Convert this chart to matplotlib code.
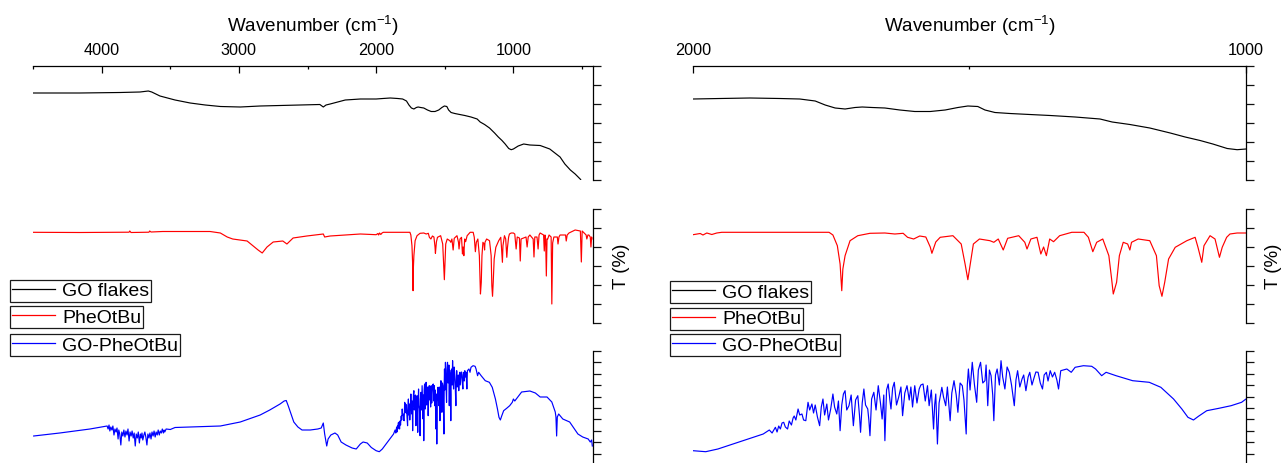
import numpy as np
import matplotlib
matplotlib.use("Agg")
import matplotlib.pyplot as plt
from matplotlib.lines import Line2D

plt.rcParams["font.family"] = ["Liberation Sans", "DejaVu Sans"]
plt.rcParams["mathtext.fontset"] = "custom"
plt.rcParams["mathtext.rm"] = "Liberation Sans"
plt.rcParams["mathtext.it"] = "Liberation Sans:italic"
plt.rcParams["mathtext.default"] = "regular"

# ---------------- FTIR spectra (wavenumber cm-1, transmittance, arbitrary offset) ----
go_flakes = [
    (4500, 87), (4160, 87), (3865, 87.5), (3720, 88), (3660, 89), (3635, 88),
    (3575, 84), (3465, 80), (3355, 77), (3245, 75), (3135, 73.5), (2990, 73),
    (2845, 74), (2700, 74.5), (2555, 75), (2410, 75.5), (2385, 73), (2365, 75),
    (2335, 76), (2225, 80), (2115, 81), (2000, 81), (1951, 81.5), (1897, 82),
    (1843, 81.5), (1807, 81), (1779, 79), (1761, 75), (1743, 72), (1725, 71),
    (1707, 72.5), (1694, 73), (1676, 72.5), (1653, 72), (1626, 70), (1599, 68.5),
    (1571, 68.5), (1544, 70), (1521, 72.5), (1503, 74), (1485, 73.5), (1472, 70),
    (1454, 67.5), (1427, 66.5), (1391, 65.5), (1354, 64.5), (1309, 63), (1264, 61),
    (1242, 58), (1210, 55.5), (1174, 52), (1137, 47), (1110, 43), (1083, 39.5),
    (1060, 36), (1034, 31.5), (1016, 30.3), (1000, 31), (965, 34), (925, 36),
    (880, 35), (805, 34.5), (735, 31), (660, 23), (625, 16), (585, 10), (550, 6),
    (510, 0.5),
]

phe_otbu = [
    (4500, 90.7), (4160, 90.5), (3800, 90.8), (3795, 92), (3786, 90.5),
    (3655, 90.8), (3650, 92), (3640, 91), (3555, 91.5), (3210, 91.5), (3135, 90),
    (3085, 86), (3045, 84), (2990, 83), (2940, 82), (2895, 77), (2860, 73),
    (2830, 70), (2795, 76), (2750, 81), (2680, 82), (2650, 79), (2605, 85),
    (2505, 87), (2385, 89), (2375, 86), (2335, 87), (2115, 89),
    (2000, 88.3), (1987, 89.5), (1982, 88), (1975, 90), (1966, 88.5), (1957, 90),
    (1948, 90.7), (1879, 90.7), (1754, 90.7), (1747, 88), (1739, 77.3), (1734, 59),
    (1731, 32.3), (1729, 54), (1725, 67.3), (1716, 82.3), (1702, 87.3), (1680, 89.7),
    (1653, 90), (1635, 89), (1620, 89.7), (1612, 85.7), (1601, 84), (1590, 87),
    (1579, 86), (1571, 76), (1568, 69.7), (1561, 81), (1553, 85.7), (1530, 87.3),
    (1515, 79), (1508, 59), (1503, 43.3), (1499, 57.3), (1493, 79), (1482, 84),
    (1463, 82.3), (1456, 80.7), (1448, 84), (1439, 73), (1431, 84.7), (1411, 87.3),
    (1400, 80.7), (1396, 74), (1389, 84), (1378, 85.7), (1371, 69), (1366, 76),
    (1361, 67.3), (1355, 84), (1348, 81.3), (1337, 87.3), (1315, 90.7), (1293, 90.7),
    (1285, 85.7), (1277, 71.3), (1270, 80.7), (1259, 84), (1248, 67.3), (1243, 44),
    (1240, 29), (1234, 40.7), (1229, 67.3), (1222, 80.7), (1214, 79), (1210, 73),
    (1207, 80.7), (1195, 84), (1174, 82.3), (1162, 67.3), (1157, 37.3), (1152, 26.7),
    (1147, 40.7), (1140, 64), (1128, 75.7), (1107, 82.3), (1092, 85.7), (1087, 76),
    (1080, 60.7), (1076, 77.3), (1065, 87.3), (1056, 84), (1051, 72.3), (1048, 65.7),
    (1043, 75.7), (1035, 85.7), (1029, 89), (1016, 90), (1000, 90),
    (990, 89), (980, 74), (972, 86), (956, 85), (950, 62), (944, 84), (908, 86),
    (900, 76), (892, 86), (880, 88), (856, 84), (850, 66), (844, 86), (828, 86),
    (820, 74), (813, 88), (805, 90), (780, 88), (775, 72), (770, 88), (765, 84),
    (760, 47), (755, 84), (750, 84), (740, 88), (725, 86), (720, 19), (714, 80),
    (705, 86), (680, 86), (675, 79), (668, 86), (660, 88), (620, 88), (615, 82),
    (608, 88), (595, 90), (550, 93), (512, 92), (505, 61), (499, 92), (470, 88),
    (465, 84), (457, 88), (450, 88), (440, 86), (435, 76), (430, 86), (428, 84),
]

go_phe_otbu = [
    (4495, 29), (4305, 32), (4085, 36), (3960, 39),
    (3953, 36), (3946, 40), (3940, 34), (3933, 38), (3925, 35), (3918, 39),
    (3910, 30), (3903, 36), (3895, 33), (3888, 37), (3880, 26), (3875, 35),
    (3868, 31), (3860, 20), (3853, 33), (3845, 29), (3838, 35), (3830, 28),
    (3823, 34), (3815, 30), (3808, 36), (3800, 24), (3793, 33), (3785, 29),
    (3778, 34), (3770, 27), (3763, 32), (3755, 19), (3748, 31), (3740, 27),
    (3733, 33), (3725, 22), (3718, 31), (3712, 27), (3706, 32), (3700, 25),
    (3692, 30), (3685, 33), (3678, 28), (3670, 20), (3663, 31), (3655, 27),
    (3648, 32), (3640, 26), (3633, 33), (3625, 29), (3618, 34), (3610, 28),
    (3603, 33), (3595, 30), (3588, 35), (3580, 30), (3573, 34), (3565, 32),
    (3558, 36), (3550, 32), (3545, 35), (3540, 33), (3530, 36), (3500, 35.5),
    (3465, 37.5), (3355, 38),
    (3245, 38.5), (3135, 39), (2990, 43), (2845, 50), (2775, 55), (2700, 61),
    (2670, 64), (2655, 64.5), (2640, 59), (2620, 51), (2600, 43), (2570, 38),
    (2540, 35), (2480, 35), (2425, 36), (2400, 37), (2385, 42), (2375, 31),
    (2360, 19), (2350, 26), (2330, 30), (2300, 32), (2280, 30), (2255, 23),
    (2220, 20), (2175, 17), (2145, 16), (2115, 21), (2095, 23), (2065, 22),
    (2035, 17.5),
    (2000, 14.3), (1977, 13.3), (1955, 16), (1933, 20), (1918, 22.7), (1895, 27),
    (1873, 31), (1862, 35), (1857, 32), (1851, 37.7), (1848, 33), (1845, 39),
    (1842, 36), (1839, 42), (1836, 42.7), (1833, 38), (1829, 36), (1826, 44),
    (1822, 40), (1819, 47), (1817, 49), (1814, 45), (1810, 56), (1807, 50),
    (1803, 51), (1800, 45), (1796, 44.3), (1792, 62.7), (1789, 55), (1785, 61),
    (1782, 52), (1779, 60), (1775, 48), (1771, 39.3), (1768, 58), (1765, 66),
    (1762, 50), (1758, 61), (1755, 45), (1751, 56), (1747, 71), (1744, 58),
    (1740, 51), (1737, 64), (1734, 34.3), (1731, 60), (1728, 71), (1725, 74.3),
    (1722, 55), (1718, 59.3), (1714, 70), (1710, 39.3), (1706, 65), (1702, 69.3),
    (1699, 50), (1697, 32.7), (1694, 62), (1691, 76), (1688, 60), (1684, 56),
    (1682, 45), (1680, 29.3), (1677, 66), (1673, 72.7), (1669, 55), (1665, 79.3),
    (1661, 62), (1658, 46), (1655, 70), (1653, 24.3), (1650, 75), (1647, 81),
    (1644, 65), (1642, 56), (1639, 77), (1636, 82.7), (1632, 60), (1628, 68),
    (1624, 78), (1621, 49.3), (1617, 72), (1613, 79.3), (1609, 65), (1606, 78),
    (1603, 58), (1599, 79.3), (1595, 62), (1591, 76), (1588, 80), (1584, 81),
    (1580, 64), (1576, 79.3), (1573, 59.3), (1569, 75), (1565, 36), (1563, 60),
    (1561, 71), (1558, 21), (1555, 62), (1550, 77.7), (1547, 68), (1543, 59.3),
    (1540, 78), (1535, 44.3), (1532, 72), (1528, 84.3), (1524, 70), (1521, 52.7),
    (1517, 82), (1513, 79.3), (1510, 65), (1506, 31), (1504, 80), (1502, 96),
    (1499, 75), (1495, 102.7), (1491, 80), (1487, 62.7), (1484, 95), (1480, 102.7),
    (1476, 82), (1472, 84.3), (1470, 100), (1467, 59.3), (1464, 95), (1461, 89.3),
    (1458, 70), (1456, 44.3), (1453, 90), (1450, 96), (1446, 80), (1443, 104.3),
    (1440, 88), (1436, 76), (1432, 98), (1428, 92.7), (1424, 80), (1419, 59.3),
    (1416, 85), (1413, 94.3), (1409, 78), (1405, 86), (1402, 90), (1398, 74.3),
    (1394, 88), (1391, 92.7), (1387, 80), (1383, 87.7), (1380, 93), (1376, 92.7),
    (1372, 82), (1368, 76), (1365, 90), (1361, 92.7), (1358, 84), (1354, 94.3),
    (1350, 88), (1346, 92.7), (1342, 85), (1339, 76), (1335, 94.3),
    (1324, 96), (1316, 92.7), (1309, 97.7), (1294, 99.3),
    (1279, 98.7), (1272, 96), (1261, 89.3), (1253, 92.7), (1235, 89.3),
    (1205, 84.3), (1175, 82.7), (1154, 77.7), (1131, 66), (1116, 56), (1105, 47.7),
    (1095, 45), (1086, 48.7), (1071, 54.3), (1049, 56.7), (1027, 59.3),
    (1008, 62.7), (1000, 66),
    (990, 64), (940, 73), (880, 74), (840, 72), (805, 68), (755, 68), (720, 63),
    (695, 53), (690, 48), (685, 29), (680, 48), (670, 51), (640, 46), (590, 43),
    (565, 38), (530, 31), (495, 28), (455, 26), (440, 23), (430, 25), (425, 19),
]

series_labels = ["GO flakes", "PheOtBu", "GO-PheOtBu"]
series_colors = ["#000000", "#ff0000", "#0000ff"]
series_data = [go_flakes, phe_otbu, go_phe_otbu]

full_range = (4500, 420)
full_major = [4000, 3000, 2000, 1000]
full_minor = [4500, 3500, 2500, 1500, 500]
zoom_range = (2000, 1000)
zoom_major = [2000, 1000]
zoom_minor = [1500]

# ---------------- layout (pixels) ----------------
W, H = 1282, 464
fig = plt.figure(figsize=(W / 100, H / 100), dpi=100)

rows = [(67, 181, 6), (210, 324, 6), (352, 466, 10)]
panels = [
    dict(x0=33, x1=593, xlim=full_range, major=full_major, minor=full_minor,
         leg_x=10, leg_y=[280.5, 307, 335], ylab_x=622),
    dict(x0=693, x1=1246, xlim=zoom_range, major=zoom_major, minor=zoom_minor,
         leg_x=670, leg_y=[282, 308.5, 335], ylab_x=1273),
]

for p in panels:
    for k, ((top, bot, nint), data, col) in enumerate(zip(rows, series_data, series_colors)):
        ax = fig.add_axes([p["x0"] / W, 1 - bot / H, (p["x1"] - p["x0"]) / W, (bot - top) / H])
        arr = np.array(data, dtype=float)
        ax.plot(arr[:, 0], arr[:, 1], color=col, lw=0.85)
        ax.set_xlim(*p["xlim"])
        ax.set_ylim(0, 114)
        ax.patch.set_alpha(0)
        for side in ("left", "bottom", "top"):
            ax.spines[side].set_visible(False)
        ax.spines["right"].set_linewidth(0.9)
        ax.yaxis.tick_right()
        ax.set_yticks(np.linspace(0, 114, nint + 1))
        ax.set_yticklabels([])
        ax.tick_params(axis="y", direction="out", length=5.8, width=0.9, color="#111111")
        if k == 0:
            ax.spines["top"].set_visible(True)
            ax.spines["top"].set_linewidth(0.9)
            ax.xaxis.tick_top()
            ax.set_xticks(p["major"])
            ax.set_xticks(p["minor"], minor=True)
            ax.set_xticklabels([str(v) for v in p["major"]])
            ax.tick_params(axis="x", which="major", direction="in", length=5, width=0.9,
                           pad=6.5, labelsize=11.7, top=True, bottom=False,
                           labeltop=True, labelbottom=False)
            ax.tick_params(axis="x", which="minor", direction="in", length=2.5, width=0.9,
                           top=True, bottom=False)
        else:
            ax.set_xticks([])

    cx = (p["x0"] + p["x1"]) / 2
    fig.text(cx / W, 1 - 32 / H, "Wavenumber (cm$^{-1}$)", ha="center", va="baseline",
             fontsize=13.6)
    fig.text(p["ylab_x"] / W, 1 - 266 / H, "T (%)", rotation=90, ha="center",
             va="center", fontsize=13.5)

    for lbl, col, ly in zip(series_labels, series_colors, p["leg_y"]):
        h = Line2D([], [], color=col, lw=0.9)
        leg = fig.legend(handles=[h], labels=[lbl], loc="upper left",
                         bbox_to_anchor=(p["leg_x"] / W, 1 - ly / H),
                         bbox_transform=fig.transFigure, borderaxespad=0,
                         borderpad=0.12, handlelength=2.2, handletextpad=0.35,
                         fontsize=14, frameon=True, fancybox=False, shadow=False,
                         framealpha=1, edgecolor="#1a1a1a")
        leg.get_frame().set_linewidth(0.9)

fig.savefig("out.png", dpi=100)
